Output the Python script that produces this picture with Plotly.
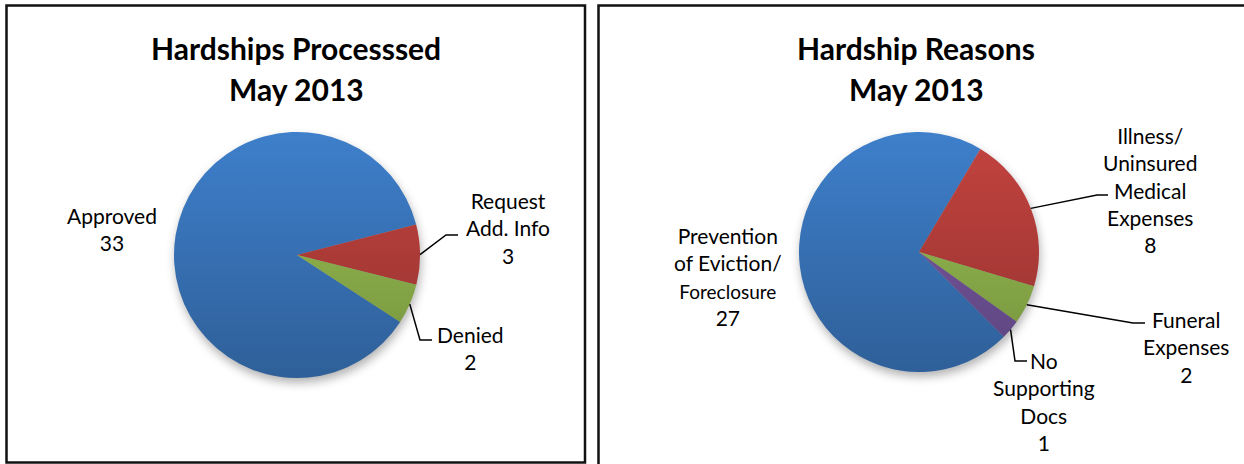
import math
import base64
import plotly.graph_objects as go

# ---------------- data ----------------
proc_title = ["Hardships Processsed", "May 2013"]
proc_labels = ["Approved", "Request\nAdd. Info", "Denied"]
proc_values = [33, 3, 2]

reason_title = ["Hardship Reasons", "May 2013"]
reason_labels = ["Prevention\nof Eviction/\nForeclosure",
                 "Illness/\nUninsured\nMedical\nExpenses",
                 "Funeral\nExpenses",
                 "No\nSupporting\nDocs"]
reason_values = [27, 8, 2, 1]

# ---------------- layout / style ----------------
W, H = 1244, 464
FONT = "Lato, Carlito, Calibri, 'Open Sans', sans-serif"
BASE_COLORS = ["#3E7FCB", "#C4433F", "#9CC353", "#7C5BA8"]
SMALL_LINES = {"Foreclosure": 19}


def px(x):
    return x / W


def py(y):
    return 1 - y / H


pies = [
    dict(labels=proc_labels, values=proc_values, title=proc_title,
         cx=297, cy=255, r=123, rot=123, title_x=296, title_y=[48, 89],
         label_pos=[(112, 229), (508, 228), (470, 348)],
         elbows=[None, [(446, 235), (458, 235)], [(420, 340), (432, 340)]]),
    dict(labels=reason_labels, values=reason_values, title=reason_title,
         cx=919, cy=252, r=120, rot=135, title_x=916, title_y=[48, 89],
         label_pos=[(728, 276), (1150, 190), (1186, 347), (1044, 401)],
         elbows=[None, [(1097, 195), (1108, 195)], [(1133, 323), (1145, 323)],
                 [(1015, 361), (1027, 361)]]),
]


def svg_uri(svg):
    return "data:image/svg+xml;base64," + base64.b64encode(svg.encode()).decode()


GRAD_SVG = svg_uri(
    "<svg xmlns='http://www.w3.org/2000/svg' width='200' height='200' viewBox='0 0 200 200'>"
    "<defs><linearGradient id='g' x1='0' y1='0' x2='0' y2='1'>"
    "<stop offset='0' stop-color='#000' stop-opacity='0'/>"
    "<stop offset='1' stop-color='#000' stop-opacity='0.25'/>"
    "</linearGradient></defs>"
    "<circle cx='100' cy='100' r='100' fill='url(#g)'/></svg>")

SHADOW_SVG = svg_uri(
    "<svg xmlns='http://www.w3.org/2000/svg' width='240' height='240' viewBox='0 0 240 240'>"
    "<defs><filter id='b' x='-20%' y='-20%' width='140%' height='140%'>"
    "<feGaussianBlur stdDeviation='4'/></filter></defs>"
    "<circle cx='121' cy='124' r='100' fill='#000' fill-opacity='0.3' filter='url(#b)'/></svg>")


def fmt_label(name, value):
    lines = []
    for ln in name.split("\n"):
        if ln in SMALL_LINES:
            lines.append(f"<span style='font-size:{SMALL_LINES[ln]}px'>{ln}</span>")
        else:
            lines.append(ln)
    return "<br>".join(lines) + "<br>" + str(value)


fig = go.Figure()
annotations = []
shapes = []
images = []

for p in pies:
    cx, cy, r = p["cx"], p["cy"], p["r"]
    n = len(p["values"])
    fig.add_trace(go.Pie(
        labels=[l.replace("\n", " ") for l in p["labels"]],
        values=p["values"],
        sort=False,
        direction="clockwise",
        rotation=p["rot"],
        textinfo="none",
        hoverinfo="label+value",
        marker=dict(colors=BASE_COLORS[:n], line=dict(width=0)),
        domain=dict(x=[px(cx - r), px(cx + r)], y=[py(cy + r), py(cy - r)]),
        showlegend=False,
    ))
    # gradient overlay and soft shadow
    images.append(dict(source=GRAD_SVG, xref="paper", yref="paper",
                       x=px(cx - r), y=py(cy - r), sizex=2 * r / W, sizey=2 * r / H,
                       sizing="stretch", xanchor="left", yanchor="top", layer="above"))
    images.append(dict(source=SHADOW_SVG, xref="paper", yref="paper",
                       x=px(cx - 1.2 * r), y=py(cy - 1.2 * r), sizex=2.4 * r / W, sizey=2.4 * r / H,
                       sizing="stretch", xanchor="left", yanchor="top", layer="below"))
    # titles
    for line, ty in zip(p["title"], p["title_y"]):
        annotations.append(dict(text=f"<b>{line}</b>", x=px(p["title_x"]), y=py(ty),
                                xref="paper", yref="paper", xanchor="center", yanchor="middle",
                                showarrow=False, font=dict(family=FONT, size=30, color="#000")))
    # labels + leader lines
    total = sum(p["values"])
    cum = 0
    for i, (name, v) in enumerate(zip(p["labels"], p["values"])):
        lx, ly = p["label_pos"][i]
        annotations.append(dict(text=fmt_label(name, v), x=px(lx), y=py(ly),
                                xref="paper", yref="paper", xanchor="center", yanchor="middle",
                                showarrow=False, align="center",
                                font=dict(family=FONT, size=21, color="#000")))
        mid = math.radians(p["rot"] + (cum + v / 2) / total * 360)
        cum += v
        el = p["elbows"][i]
        if el:
            sx, sy = cx + r * math.sin(mid), cy - r * math.cos(mid)
            pts = [(sx, sy)] + el
            path = "M " + " L ".join(f"{px(a):.5f},{py(b):.5f}" for a, b in pts)
            shapes.append(dict(type="path", path=path, xref="paper", yref="paper",
                               line=dict(color="#000", width=1.5)))

# panel borders
shapes.append(dict(type="rect", xref="paper", yref="paper",
                   x0=px(6.5), x1=px(585), y0=py(462.5), y1=py(5.5),
                   line=dict(color="#111", width=2.5)))
shapes.append(dict(type="rect", xref="paper", yref="paper",
                   x0=px(598.5), x1=px(1260), y0=py(480), y1=py(5.5),
                   line=dict(color="#111", width=2.5)))

fig.update_layout(
    width=W, height=H,
    margin=dict(l=0, r=0, t=0, b=0),
    paper_bgcolor="white", plot_bgcolor="white",
    annotations=annotations, shapes=shapes, images=images,
    font=dict(family=FONT),
)

fig.write_html("out.html", config={"displayModeBar": False},
               post_script="document.body.style.margin='0';document.body.style.overflow='hidden';")
